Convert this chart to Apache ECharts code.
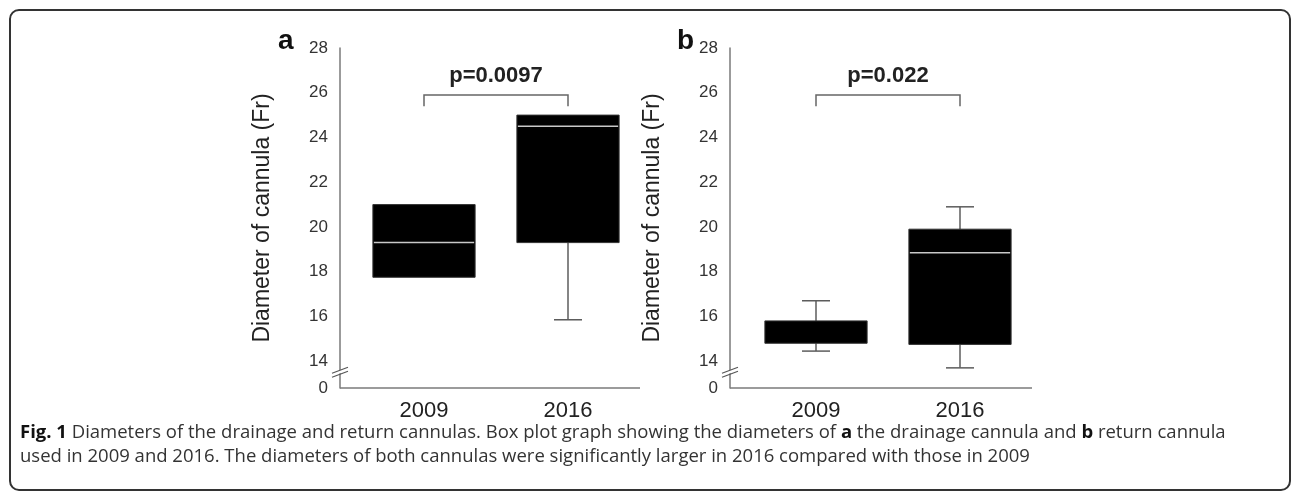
<!DOCTYPE html>
<html>
<head>
<meta charset="utf-8">
<script src="https://cdn.jsdelivr.net/npm/echarts@6/dist/echarts.min.js"></script>
<style>
  html, body { margin: 0; padding: 0; background: #fff; }
  #chart { width: 1296px; height: 496px; }
</style>
</head>
<body>
<div id="chart"></div>
<script>
// data: [min, Q1, median, Q3, max]
const categories = ["2009", "2016"];
const drainage2009 = [17.75, 17.75, 19.3, 21.0, 21.0];
const drainage2016 = [15.85, 19.3, 24.5, 25.0, 25.0];
const return2009 = [14.45, 14.8, 14.8, 15.8, 16.7];
const return2016 = [13.7, 14.75, 18.85, 19.9, 20.9];

// y axis: broken scale, bottom label stands for 0
const yMin = 12.8;
const yMax = 28;
const yTickValues = [12.8, 14, 16, 18, 20, 22, 24, 26, 28];
const yTickLabels = ["0", "14", "16", "18", "20", "22", "24", "26", "28"];
const axisBreakAt = 13.55;

// significance brackets
const pLabels = ["p=0.0097", "p=0.022"];
const bracketLow = 25.4;
const bracketHigh = 25.9;

const axisColor = "#7a7a7a";
const textColor = "#222";
const font = "Liberation Sans, Arial, sans-serif";

function boxData(a, b) {
  return [[0].concat(a), [1].concat(b)];
}

function renderBox(params, api) {
  const cat = api.value(0);
  const y = (v) => api.coord([cat, v])[1];
  const cx = api.coord([cat, api.value(1)])[0];
  const band = api.size([1, 0])[0];
  const half = band * 0.355;
  const cap = 14;
  const min = api.value(1), q1 = api.value(2), med = api.value(3), q3 = api.value(4), max = api.value(5);
  const whisker = { stroke: "#5c5c5c", lineWidth: 1.5 };
  const children = [];
  if (min < q1) {
    children.push({ type: "line", shape: { x1: cx, y1: y(q1), x2: cx, y2: y(min) }, style: whisker });
    children.push({ type: "line", shape: { x1: cx - cap, y1: y(min), x2: cx + cap, y2: y(min) }, style: whisker });
  }
  if (max > q3) {
    children.push({ type: "line", shape: { x1: cx, y1: y(q3), x2: cx, y2: y(max) }, style: whisker });
    children.push({ type: "line", shape: { x1: cx - cap, y1: y(max), x2: cx + cap, y2: y(max) }, style: whisker });
  }
  children.push({
    type: "rect",
    shape: { x: cx - half, y: y(q3), width: half * 2, height: y(q1) - y(q3) },
    style: { fill: "#000", stroke: "#333", lineWidth: 1 },
  });
  if (med > q1 && med < q3) {
    children.push({
      type: "line",
      shape: { x1: cx - half + 1, y1: y(med), x2: cx + half - 1, y2: y(med) },
      style: { stroke: "#c8c8c8", lineWidth: 1.5 },
    });
  }
  return { type: "group", children };
}

function renderBracket(params, api) {
  const left = api.coord([api.value(0), api.value(3)]);
  const right = api.coord([api.value(1), api.value(3)]);
  const low = api.coord([api.value(0), api.value(2)])[1];
  const label = pLabels[params.seriesIndex === 1 ? 0 : 1];
  return {
    type: "group",
    children: [
      {
        type: "polyline",
        shape: { points: [[left[0], low], left, right, [right[0], low]] },
        style: { stroke: "#666", lineWidth: 1.5, fill: "none" },
      },
      {
        type: "text",
        x: (left[0] + right[0]) / 2,
        y: left[1] - 8,
        style: {
          text: label,
          fill: textColor,
          font: "bold 22px " + font,
          textAlign: "center",
          textVerticalAlign: "bottom",
        },
      },
    ],
  };
}

// x baseline from the (offset) y axis to the grid end, plus the "//" break mark
function renderFrame(params, api) {
  const offset = params.seriesIndex === 4 ? 12 : 14;
  const cs = params.coordSys;
  const x = cs.x - offset;
  const yBase = cs.y + cs.height;
  const y = api.coord([0, api.value(0)])[1];
  return {
    type: "group",
    children: [
      { type: "line", shape: { x1: x, y1: yBase, x2: cs.x + cs.width, y2: yBase }, style: { stroke: axisColor, lineWidth: 1.5 } },
      { type: "polygon", shape: { points: [[x - 8, y + 2], [x + 8, y - 4], [x + 8, y - 1], [x - 8, y + 5]] }, style: { fill: "#fff" } },
      { type: "line", shape: { x1: x - 8, y1: y + 2, x2: x + 8, y2: y - 4 }, style: { stroke: "#555", lineWidth: 1.2 } },
      { type: "line", shape: { x1: x - 8, y1: y + 6, x2: x + 8, y2: y }, style: { stroke: "#555", lineWidth: 1.2 } },
    ],
  };
}

function xAxisFor(gridIndex) {
  return {
    type: "category",
    gridIndex,
    data: categories,
    axisLine: { show: false },
    axisTick: { show: false },
    axisLabel: { color: textColor, fontSize: 22, fontFamily: font, margin: 12 },
  };
}

function yAxisFor(gridIndex, offset) {
  return {
    type: "value",
    gridIndex,
    offset,
    min: yMin,
    max: yMax,
    name: "Diameter of cannula (Fr)",
    nameLocation: "middle",
    nameRotate: 90,
    nameGap: 66,
    nameTextStyle: { color: textColor, fontSize: 23, fontFamily: font },
    splitLine: { show: false },
    axisLine: { show: true, lineStyle: { color: axisColor, width: 1.5 } },
    axisTick: { show: false },
    axisLabel: {
      color: "#333",
      fontSize: 17,
      fontFamily: font,
      margin: 12,
      customValues: yTickValues,
      formatter: (v) => yTickLabels[yTickValues.indexOf(v)],
    },
  };
}

const chart = echarts.init(document.getElementById("chart"));
chart.setOption({
  animation: false,
  title: [
    { text: "a", left: 273, top: 22, textStyle: { fontSize: 28, fontWeight: "bold", color: "#111", fontFamily: font } },
    { text: "b", left: 672, top: 22, textStyle: { fontSize: 28, fontWeight: "bold", color: "#111", fontFamily: font } },
    {
      text:
        "{b|Fig. 1} Diameters of the drainage and return cannulas. Box plot graph showing the diameters of {b|a} the drainage cannula and {b|b} return cannula\n" +
        "used in 2009 and 2016. The diameters of both cannulas were significantly larger in 2016 compared with those in 2009",
      left: 15,
      top: 416,
      textStyle: {
        fontSize: 18.5,
        fontWeight: "normal",
        color: "#333",
        fontFamily: "Open Sans",
        lineHeight: 24,
        rich: {
          b: { fontSize: 18.5, fontWeight: "bold", color: "#111", fontFamily: "Open Sans", lineHeight: 24 },
        },
      },
    },
  ],
  graphic: [
    {
      type: "rect",
      shape: { x: 10, y: 10, width: 1280, height: 480, r: 9 },
      style: { fill: "none", stroke: "#333", lineWidth: 2 },
    },
  ],
  grid: [
    { left: 352, top: 48, width: 288, height: 340 },
    { left: 744, top: 48, width: 288, height: 340 },
  ],
  xAxis: [xAxisFor(0), xAxisFor(1)],
  yAxis: [yAxisFor(0, 12), yAxisFor(1, 14)],
  series: [
    {
      name: "Drainage",
      type: "custom",
      xAxisIndex: 0,
      yAxisIndex: 0,
      renderItem: renderBox,
      encode: { x: 0, y: [1, 2, 3, 4, 5] },
      data: boxData(drainage2009, drainage2016),
      clip: false,
    },
    {
      name: "Drainage p",
      type: "custom",
      xAxisIndex: 0,
      yAxisIndex: 0,
      renderItem: renderBracket,
      encode: { x: [0, 1], y: [2, 3] },
      data: [[0, 1, bracketLow, bracketHigh]],
      clip: false,
    },
    {
      name: "Return",
      type: "custom",
      xAxisIndex: 1,
      yAxisIndex: 1,
      renderItem: renderBox,
      encode: { x: 0, y: [1, 2, 3, 4, 5] },
      data: boxData(return2009, return2016),
      clip: false,
    },
    {
      name: "Return p",
      type: "custom",
      xAxisIndex: 1,
      yAxisIndex: 1,
      renderItem: renderBracket,
      encode: { x: [0, 1], y: [2, 3] },
      data: [[0, 1, bracketLow, bracketHigh]],
      clip: false,
    },
    {
      name: "frame a",
      type: "custom",
      xAxisIndex: 0,
      yAxisIndex: 0,
      renderItem: renderFrame,
      encode: { y: 0 },
      data: [[axisBreakAt]],
      clip: false,
      z: 10,
    },
    {
      name: "frame b",
      type: "custom",
      xAxisIndex: 1,
      yAxisIndex: 1,
      renderItem: renderFrame,
      encode: { y: 0 },
      data: [[axisBreakAt]],
      clip: false,
      z: 10,
    },
  ],
});
</script>
</body>
</html>
